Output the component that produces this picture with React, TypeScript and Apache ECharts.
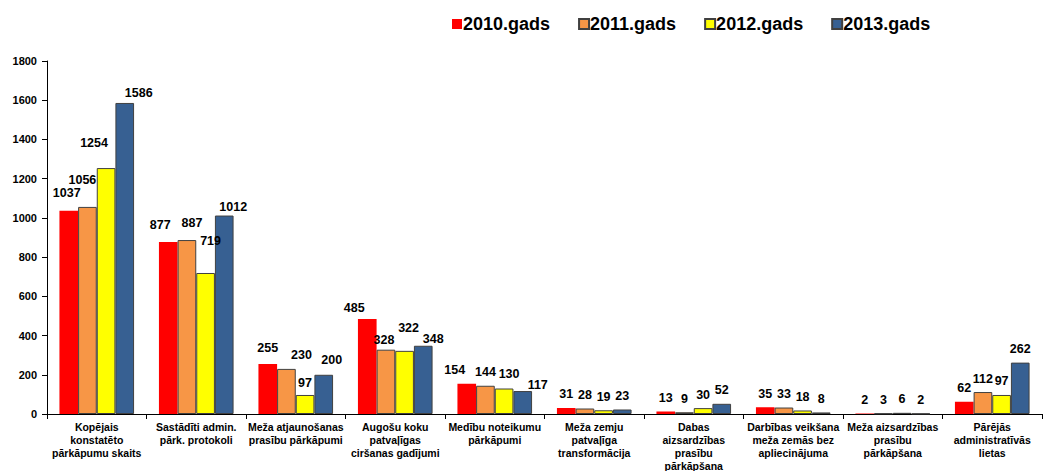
import React, { useEffect, useRef } from "react";
import * as echarts from "echarts";

const categories = [
  "Kopējais\nkonstatēto\npārkāpumu skaits",
  "Sastādīti admin.\npārk. protokoli",
  "Meža atjaunošanas\nprasību pārkāpumi",
  "Augošu koku\npatvaļīgas\nciršanas gadījumi",
  "Medību noteikumu\npārkāpumi",
  "Meža zemju\npatvaļīga\ntransformācija",
  "Dabas\naizsardzības\nprasību\npārkāpšana",
  "Darbības veikšana\nmeža zemās bez\napliecinājuma",
  "Meža aizsardzības\nprasību\npārkāpšana",
  "Pārējās\nadministratīvās\nlietas",
];

const seriesNames = ["2010.gads", "2011.gads", "2012.gads", "2013.gads"];
const values2010 = [1037, 877, 255, 485, 154, 31, 13, 35, 2, 62];
const values2011 = [1056, 887, 230, 328, 144, 28, 9, 33, 3, 112];
const values2012 = [1254, 719, 97, 322, 130, 19, 30, 18, 6, 97];
const values2013 = [1586, 1012, 200, 348, 117, 23, 52, 8, 2, 262];
const yTicks = [0, 200, 400, 600, 800, 1000, 1200, 1400, 1600, 1800];
const colors = ["#FF0000", "#F79646", "#FFFF00", "#376092"];

// label nudges [dx, dy] per series per category (style only), mimicking the reference placement
const labelNudges: number[][][] = [
  [[-2, -4], [-8, -4], [0, -2], [-13, 3], [-12, 0]],
  [[-5, -13], [5, -4], [15, 0], [-2, 4], [0, 0]],
  [[-12, -12], [5, -18], [0, 2], [4, -9], [5, -1]],
  [[14, 4], [9, 5], [8, -1], [10, 7], [15, 7]],
];

export default function App() {
  const ref = useRef<HTMLDivElement>(null);
  useEffect(() => {
    if (!ref.current) return;
    const chart = echarts.init(ref.current, undefined, { renderer: "svg" });
    const all = [values2010, values2011, values2012, values2013];
    chart.setOption({
      animation: false,
      textStyle: { fontFamily: "Liberation Sans, Arial, sans-serif" },
      legend: {
        top: 10,
        left: 447,
        itemWidth: 10,
        itemHeight: 10,
        itemGap: 28,
        icon: "rect",
        textStyle: { fontSize: 18, fontWeight: "bold", color: "#000", padding: [0, 0, 0, -4] },
        data: seriesNames,
      },
      grid: { left: 47, right: 4, top: 61, bottom: 57, outerBoundsMode: "none", containLabel: false },
      xAxis: {
        type: "category",
        data: categories,
        axisLine: { lineStyle: { color: "#000" } },
        axisTick: { show: true, length: 5, alignWithLabel: false, lineStyle: { color: "#000" } },
        axisLabel: {
          interval: 0,
          color: "#000",
          fontSize: 10.5,
          fontWeight: "bold",
          lineHeight: 13,
          margin: 6,
        },
      },
      yAxis: {
        type: "value",
        min: yTicks[0],
        max: yTicks[yTicks.length - 1],
        interval: yTicks[1] - yTicks[0],
        splitLine: { show: false },
        axisLine: { show: true, lineStyle: { color: "#000" } },
        axisTick: { show: true, length: 5, lineStyle: { color: "#000" } },
        axisLabel: {
          color: "#000",
          fontSize: 11,
          fontWeight: "bold",
          margin: 10,
          formatter: (v: number) => String(v),
        },
      },
      series: seriesNames.map((name, i) => ({
        name,
        type: "bar",
        data: all[i].map((v, j) => {
          const n = labelNudges[i][j];
          return n ? { value: v, label: { offset: n } } : v;
        }),
        barGap: "0%",
        barCategoryGap: "25%",
        itemStyle: {
          color: colors[i],
          borderColor: i === 0 ? colors[0] : "#404040",
          borderWidth: i === 0 ? 0 : 1,
        },
        label: {
          show: true,
          position: "top",
          distance: 7,
          color: "#000",
          fontSize: 12.5,
          fontWeight: "bold",
        },
      })),
    });
    return () => chart.dispose();
  }, []);
  return (
    <div
      ref={ref}
      style={{ position: "fixed", left: 0, top: 0, width: 1046, height: 471, background: "#fff" }}
    />
  );
}
